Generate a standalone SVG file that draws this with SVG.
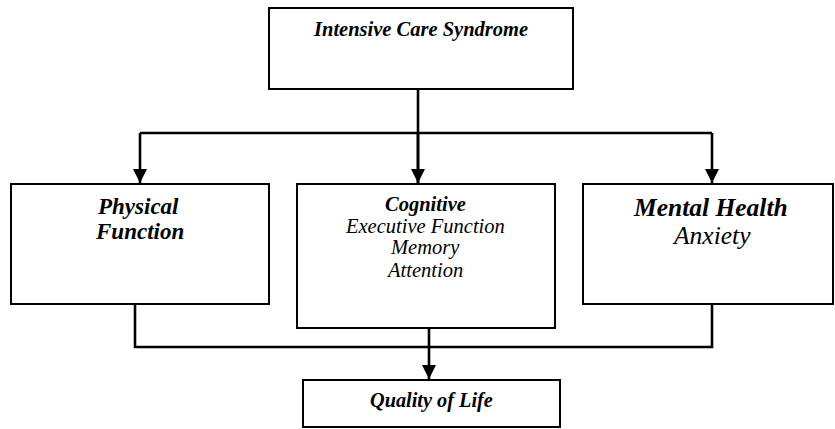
<svg xmlns="http://www.w3.org/2000/svg" width="835" height="429" viewBox="0 0 835 429">
<style>
.box{fill:#fff;stroke:#000;stroke-width:2}
.ln{fill:none;stroke:#000;stroke-width:2.6}
</style>
<defs>
<marker id="arr" viewBox="0 0 14 14" refX="14" refY="7" markerWidth="14" markerHeight="14" orient="auto" markerUnits="userSpaceOnUse"><path d="M0,0 L14,7 L0,14 z" fill="#000"/></marker>
</defs>
<g id="connectors">
<path class="ln" d="M418,89 V183"/>
<path class="ln" d="M140,133 H712"/>
<path class="ln" d="M140,133 V183" marker-end="url(#arr)"/>
<path class="ln" d="M712,133 V183" marker-end="url(#arr)"/>
<path class="ln" d="M418,133 V183" marker-end="url(#arr)"/>
<path class="ln" d="M135,304 V347 H712 V304"/>
<path class="ln" d="M429,328 V379" marker-end="url(#arr)"/>
</g>
<g id="intensive-care-syndrome">
<rect class="box" x="269" y="8" width="304" height="81"/>
<text x="314" y="36" font-family="Liberation Serif" font-style="italic" font-weight="bold" font-size="20.5">Intensive Care Syndrome</text>
</g>
<g id="physical-function">
<rect class="box" x="11" y="184" width="258" height="120"/>
<text x="98" y="214" font-family="Liberation Serif" font-style="italic" font-weight="bold" font-size="23">Physical</text>
<text x="96" y="239" font-family="Liberation Serif" font-style="italic" font-weight="bold" font-size="23">Function</text>
</g>
<g id="cognitive">
<rect class="box" x="297" y="184" width="258" height="144"/>
<text x="385" y="211" font-family="Liberation Serif" font-style="italic" font-weight="bold" font-size="20.5">Cognitive</text>
<text x="346" y="233" font-family="Liberation Serif" font-style="italic" font-size="20.5">Executive Function</text>
<text x="391" y="254" font-family="Liberation Serif" font-style="italic" font-size="20.5">Memory</text>
<text x="388" y="277" font-family="Liberation Serif" font-style="italic" font-size="20.5">Attention</text>
</g>
<g id="mental-health">
<rect class="box" x="583" y="184" width="250" height="120"/>
<text x="634" y="216" font-family="Liberation Serif" font-style="italic" font-weight="bold" font-size="25.5">Mental Health</text>
<text x="674" y="244" font-family="Liberation Serif" font-style="italic" font-size="25.5">Anxiety</text>
</g>
<g id="quality-of-life">
<rect class="box" x="303" y="380" width="257" height="47"/>
<text x="370" y="407" font-family="Liberation Serif" font-style="italic" font-weight="bold" font-size="20.3">Quality of Life</text>
</g>
</svg>
